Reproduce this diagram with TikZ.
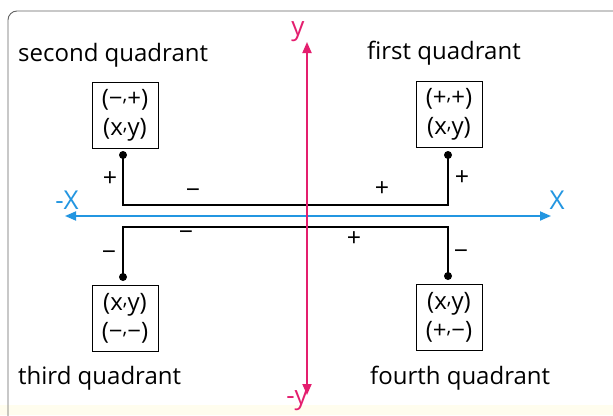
\documentclass[tikz,border=0pt]{standalone}
\usepackage{fontspec}
\setmainfont{Open Sans}
\usetikzlibrary{arrows.meta}
\definecolor{axmag}{RGB}{228,30,110}
\definecolor{axblue}{RGB}{35,150,225}
\definecolor{framegray}{RGB}{100,100,100}
\definecolor{cream}{RGB}{255,253,238}
\tikzset{
  quad/.style={font=\fontsize{24}{28}\selectfont, anchor=base west, inner sep=0pt},
  coordbox/.style={draw, line width=0.9pt, inner sep=0pt, minimum width=66pt, minimum height=66pt, align=center, font=\fontsize{24}{29}\selectfont},
  sign/.style={font=\fontsize{25}{26}\selectfont, inner sep=0pt},
  conn/.style={line width=1.8pt, line cap=rect},
  dotc/.style={circle, fill=black, inner sep=0pt, minimum size=8pt},
  axlab/.style={font=\fontsize{26}{28}\selectfont, inner sep=0pt}
}
\newcommand{\mysep}{\raisebox{0.35ex}{\scalebox{0.8}{,}}}
\newcommand{\mym}{\char"2212}
\begin{document}
\begin{tikzpicture}[x=1pt,y=-1pt]
\useasboundingbox (0,0) rectangle (613,415);
\clip (0,0) rectangle (613,415);
\fill[white] (0,0) rectangle (613,415);
\fill[cream] (0,405) rectangle (613,415);
\draw[framegray, line width=0.9pt, rounded corners=9pt] (8,11) rectangle (640,440);
% labels
\node[quad] (l2) at (18,61) {second quadrant};
\node[quad] (l1) at (367,59) {first quadrant};
\node[quad] (l3) at (18,384) {third quadrant};
\node[quad] (l4) at (370,384) {fourth quadrant};
% boxes
\node[coordbox] (b2) at (125,115) {(\mym\mysep+)\\(x\mysep y)};
\node[coordbox] (b1) at (449,114) {(+\mysep+)\\(x\mysep y)};
\node[coordbox] (b3) at (125,318) {(x\mysep y)\\(\mym\mysep\mym)};
\node[coordbox] (b4) at (449,317) {(x\mysep y)\\(+\mysep\mym)};
% dots
\node[dotc] (d2) at (123,155) {};
\node[dotc] (d1) at (448,155) {};
\node[dotc] (d3) at (123,277) {};
\node[dotc] (d4) at (448,276) {};
% connectors
\coordinate (u2) at (123,205);
\coordinate (u1) at (448,205);
\coordinate (w3) at (123,227);
\coordinate (w4) at (448,227);
\draw[conn] (d2.center) -- (u2) -- (u1) -- (d1.center);
\draw[conn] (d3.center) -- (w3) -- (w4) -- (d4.center);
% signs
\node[sign] (s1) at (110,179) {+};
\node[sign] (s2) at (193,194) {\mym};
\node[sign] (s3) at (382,189) {+};
\node[sign] (s4) at (462,178) {+};
\node[sign] (s5) at (186,236) {\mym};
\node[sign] (s6) at (354,239) {+};
\node[sign] (s7) at (109,256) {\mym};
\node[sign] (s8) at (461,255) {\mym};
% axes
\coordinate (xl) at (65,216);
\coordinate (xr) at (551,216);
\coordinate (yt) at (307,42);
\coordinate (yb) at (307,395);
\draw[axblue, line width=1.8pt, -{Triangle[length=11pt,width=9pt]}] (306,216) -- (xr);
\draw[axblue, line width=1.8pt, -{Triangle[length=11pt,width=9pt]}] (306,216) -- (xl);
\draw[axmag, line width=1.8pt, -{Triangle[length=11pt,width=9pt]}] (307,216) -- (yt);
\draw[axmag, line width=1.8pt, -{Triangle[length=11pt,width=9pt]}] (307,216) -- (yb);
\node[axlab, text=axblue] (xlab) at (557,200) {X};
\node[axlab, text=axblue] (mxlab) at (67,200) {-X};
\node[axlab, text=axmag] (ylab) at (298,32) {y};
\node[axlab, text=axmag] (mylab) at (297,401) {-y};
\end{tikzpicture}
\end{document}
